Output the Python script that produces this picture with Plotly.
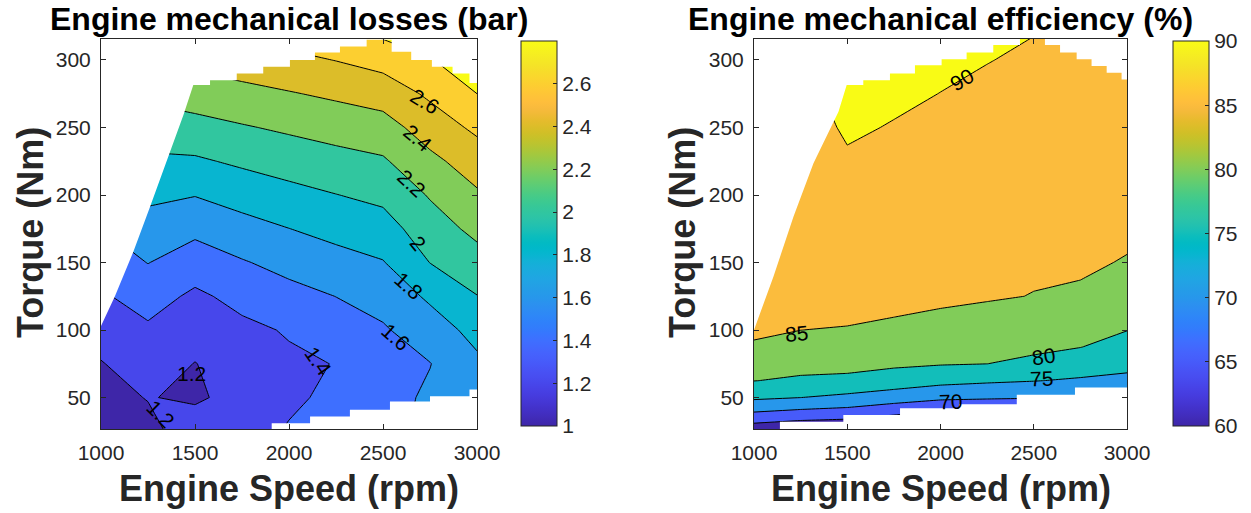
import plotly.graph_objects as go

# ---------------- data ----------------
speed = [1000, 1250, 1500, 1750, 2000, 2250, 2500, 2750, 3000]

# Mechanical losses (bar): one list per engine speed, rows = loss_torque
loss_torque = [25, 50, 75, 100, 125, 150, 175, 200, 225, 250, 275, 300, 325]
loss_1000 = [1.06, 1.12, 1.19, 1.283, 1.377, 1.484, 1.596, 1.709, 1.824, 1.943, 2.068, 2.20, 2.343]
loss_1250 = [1.13, 1.21, 1.297, 1.371, 1.477, 1.605, 1.721, 1.84, 1.965, 2.10, 2.244, 2.40, 2.556]
loss_1500 = [1.33, 1.165, 1.195, 1.279, 1.366, 1.494, 1.65, 1.807, 1.973, 2.133, 2.295, 2.456, 2.615]
loss_1750 = [1.30, 1.28, 1.29, 1.359, 1.454, 1.585, 1.729, 1.879, 2.032, 2.184, 2.342, 2.503, 2.667]
loss_2000 = [1.42, 1.36, 1.37, 1.415, 1.538, 1.661, 1.798, 1.941, 2.085, 2.231, 2.387, 2.552, 2.719]
loss_2250 = [1.50, 1.45, 1.405, 1.51, 1.602, 1.730, 1.862, 1.996, 2.133, 2.278, 2.434, 2.605, 2.772]
loss_2500 = [1.53, 1.53, 1.55, 1.58, 1.668, 1.790, 1.918, 2.047, 2.176, 2.322, 2.485, 2.673, 2.88]
loss_2750 = [1.66, 1.63, 1.595, 1.70, 1.834, 2.003, 2.108, 2.216, 2.353, 2.491, 2.634, 2.79, 2.95]
loss_3000 = [1.70, 1.72, 1.76, 1.865, 1.995, 2.123, 2.25, 2.375, 2.493, 2.64, 2.80, 2.90, 3.0]

# Mechanical efficiency (%): one list per engine speed, rows = eff_torque
eff_torque = [25, 37.5, 50, 62.5, 75, 87.5, 100, 125, 150, 175, 225, 250, 275, 300, 325]
eff_1000 = [61.25, 69.06, 75.83, 80.08, 82.12, 84.17, 86.2, 86.4, 86.6, 86.8, 87.2, 87.56, 87.97, 88.37, 88.78]
eff_1250 = [59.8, 67.92, 75.02, 79.31, 81.52, 83.33, 85.02, 85.56, 86.1, 86.65, 87.73, 88.27, 88.81, 89.35, 89.89]
eff_1500 = [59.0, 67.33, 73.86, 79.0, 81.32, 82.96, 84.61, 87.86, 88.1, 88.6, 89.55, 90.49, 91.42, 92.35, 93.28]
eff_1750 = [57.0, 65.33, 72.5, 77.69, 80.79, 82.32, 83.84, 86.89, 87.2, 87.5, 88.94, 89.8, 90.65, 91.5, 92.35]
eff_2000 = [55.1, 63.36, 71.09, 76.41, 80.30, 81.73, 83.17, 86.03, 86.4, 86.84, 88.40, 89.18, 89.96, 90.74, 91.52]
eff_2250 = [54.0, 62.6, 70.7, 75.69, 80.02, 81.36, 82.72, 85.43, 85.8, 86.53, 87.95, 88.66, 89.38, 90.09, 90.8]
eff_2500 = [53.0, 61.8, 70.38, 75.15, 78.94, 80.95, 82.26, 84.89, 85.63, 86.28, 87.58, 88.24, 88.89, 89.54, 90.2]
eff_2750 = [52.0, 61.07, 70.05, 74.46, 77.44, 80.1, 81.34, 83.81, 86.29, 86.6, 87.12, 87.72, 88.32, 88.92, 89.52]
eff_3000 = [51.4, 60.36, 69.29, 73.83, 76.36, 78.26, 80.09, 82.28, 84.47, 86.68, 86.9, 87.2, 87.78, 88.36, 88.95]

# Operating envelope (max / min torque curves) for each map
loss_max_speed = [1000, 1074, 1172, 1260, 1349, 1438, 1491, 1580, 1580, 1722, 1722, 1863, 1863, 2005, 2005,
                  2138, 2138, 2271, 2271, 2413, 2413, 2546, 2546, 2650, 2650, 2760, 2760, 2870, 2870, 2960, 2960, 3000]
loss_max_torque = [103, 125, 158, 191, 225, 259, 281.5, 281.5, 285, 285, 290, 290, 295, 295, 300,
                   300, 305.5, 305.5, 310, 310, 315, 315, 306, 306, 300, 300, 295, 295, 290, 290, 283, 283]
loss_min_speed = [1000, 1908, 1908, 2112, 2112, 2324, 2324, 2537, 2537, 2750, 2750, 2960, 2960, 3000]
loss_min_torque = [20, 20, 31, 31, 36, 36, 41, 41, 47, 47, 51, 51, 56, 56]

eff_max_speed = [1000, 1104, 1212, 1319, 1453, 1497, 1586, 1586, 1729, 1729, 1863, 1863, 2006, 2006, 2140, 2140,
                 2283, 2283, 2426, 2426, 2560, 2560, 2641, 2641, 2730, 2730, 2810, 2810, 2891, 2891, 2971, 2971, 3000]
eff_max_torque = [100, 139.5, 184, 223.5, 261.7, 281.5, 281.5, 285, 285, 290, 290, 296, 296, 300.5, 300.5, 305.5,
                  305.5, 311, 311, 316, 316, 311, 311, 305.5, 305.5, 300.5, 300.5, 295.5, 295.5, 290.5, 290.5, 285.5, 285.5]
eff_min_speed = [1000, 1139, 1139, 1479, 1479, 1783, 1783, 2100, 2100, 2409, 2409, 2721, 2721, 3000]
eff_min_torque = [20, 20, 32, 32, 37, 37, 42, 42, 45, 45, 52, 52, 57.5, 57.5]

# Contour labels (text, speed, torque, rotation)
loss_label_text = ["2.6", "2.4", "2.2", "2", "1.8", "1.6", "1.4", "1.2", "1.2"]
loss_label_speed = [2723, 2688, 2653, 2688, 2635, 2564, 2156, 1482, 1314]
loss_label_torque = [269, 242, 208.7, 164, 133, 95, 76.5, 68, 38]
loss_label_angle = [31, 40, 43, 50, 42, 41, 55, 0, 45]
eff_label_text = ["90", "85", "80", "75", "70"]
eff_label_speed = [2114, 1229, 2551, 2543, 2051]
eff_label_torque = [285.7, 97.5, 80.2, 64, 47]
eff_label_angle = [-31, -5, -8, -2, -2]

speed_ticks = [1000, 1500, 2000, 2500, 3000]
torque_ticks = [50, 100, 150, 200, 250, 300]
loss_cbar_ticks = [1, 1.2, 1.4, 1.6, 1.8, 2, 2.2, 2.4, 2.6]
eff_cbar_ticks = [60, 65, 70, 75, 80, 85, 90]

# ---------------- parula colormap ----------------
parula_rgb = [
    (0.2422, 0.1504, 0.6603), (0.2504, 0.1650, 0.7076), (0.2578, 0.1818, 0.7511), (0.2647, 0.1978, 0.7952),
    (0.2706, 0.2147, 0.8364), (0.2751, 0.2342, 0.8710), (0.2783, 0.2559, 0.8991), (0.2803, 0.2782, 0.9221),
    (0.2813, 0.3006, 0.9414), (0.2810, 0.3228, 0.9579), (0.2795, 0.3447, 0.9717), (0.2760, 0.3667, 0.9829),
    (0.2699, 0.3892, 0.9906), (0.2602, 0.4123, 0.9952), (0.2440, 0.4358, 0.9988), (0.2206, 0.4603, 0.9973),
    (0.1963, 0.4847, 0.9892), (0.1834, 0.5074, 0.9798), (0.1786, 0.5289, 0.9682), (0.1764, 0.5499, 0.9520),
    (0.1687, 0.5703, 0.9359), (0.1540, 0.5902, 0.9218), (0.1460, 0.6091, 0.9079), (0.1380, 0.6276, 0.8973),
    (0.1248, 0.6459, 0.8883), (0.1113, 0.6635, 0.8763), (0.0952, 0.6798, 0.8598), (0.0689, 0.6948, 0.8394),
    (0.0297, 0.7082, 0.8163), (0.0036, 0.7203, 0.7917), (0.0067, 0.7312, 0.7660), (0.0433, 0.7411, 0.7394),
    (0.0964, 0.7500, 0.7120), (0.1408, 0.7584, 0.6842), (0.1717, 0.7670, 0.6554), (0.1938, 0.7758, 0.6251),
    (0.2161, 0.7843, 0.5923), (0.2470, 0.7918, 0.5567), (0.2906, 0.7973, 0.5188), (0.3406, 0.8008, 0.4789),
    (0.3909, 0.8029, 0.4354), (0.4456, 0.8024, 0.3909), (0.5044, 0.7993, 0.3480), (0.5616, 0.7942, 0.3045),
    (0.6174, 0.7876, 0.2612), (0.6720, 0.7793, 0.2227), (0.7242, 0.7698, 0.1910), (0.7738, 0.7598, 0.1646),
    (0.8203, 0.7498, 0.1535), (0.8634, 0.7406, 0.1596), (0.9035, 0.7330, 0.1774), (0.9393, 0.7288, 0.2100),
    (0.9728, 0.7298, 0.2394), (0.9956, 0.7434, 0.2371), (0.9970, 0.7659, 0.2199), (0.9952, 0.7893, 0.2028),
    (0.9892, 0.8136, 0.1885), (0.9786, 0.8386, 0.1766), (0.9676, 0.8639, 0.1643), (0.9610, 0.8890, 0.1537),
    (0.9597, 0.9135, 0.1423), (0.9628, 0.9373, 0.1265), (0.9691, 0.9606, 0.1064), (0.9769, 0.9839, 0.0805),
]
n = len(parula_rgb)
parula = [[i / (n - 1), "rgb(%d,%d,%d)" % tuple(round(c * 255) for c in rgb)] for i, rgb in enumerate(parula_rgb)]

# ---------------- figure ----------------
W, H = 1251, 513
FONT = "Liberation Sans, Arial, Helvetica, sans-serif"
TXT = "#262626"

def px_x(p):
    return p / W

def px_y(p):
    return 1 - p / H

def grid(cols):
    return [list(r) for r in zip(*cols)]

z_loss = grid([loss_1000, loss_1250, loss_1500, loss_1750, loss_2000, loss_2250, loss_2500, loss_2750, loss_3000])
z_eff = grid([eff_1000, eff_1250, eff_1500, eff_1750, eff_2000, eff_2250, eff_2500, eff_2750, eff_3000])

fig = go.Figure()

def add_map(z, ys, start, end, size, xa, ya):
    fig.add_trace(go.Contour(
        x=speed, y=ys, z=z, colorscale=parula, showscale=False,
        autocontour=False,
        contours=dict(start=start, end=end, size=size, coloring="fill", showlabels=False),
        line=dict(color="black", width=1, smoothing=0),
        hoverinfo="skip", xaxis=xa, yaxis=ya))

def add_mask(sx, sy, top, xa, ya):
    edge = 340 if top else 0
    xs = [950] + sx + [3050, 3050, 950]
    ys = [sy[0]] + sy + [sy[-1], edge, edge]
    fig.add_trace(go.Scatter(x=xs, y=ys, mode="lines", fill="toself", fillcolor="white",
                             line=dict(width=0, color="white"), hoverinfo="skip",
                             showlegend=False, xaxis=xa, yaxis=ya))

def add_cbar(cmin, cmax, ticks, xpix, xa, ya):
    fig.add_trace(go.Scatter(
        x=[None], y=[None], mode="markers", showlegend=False, hoverinfo="skip",
        marker=dict(color=[cmin], colorscale=parula, cmin=cmin, cmax=cmax, showscale=True,
                    colorbar=dict(x=px_x(xpix), xanchor="left", xpad=0, ypad=0,
                                  y=px_y(41), yanchor="top", len=385, lenmode="pixels",
                                  thickness=36, thicknessmode="pixels",
                                  outlinewidth=1, outlinecolor=TXT,
                                  tickvals=ticks, ticks="inside", ticklen=4, tickcolor=TXT,
                                  tickfont=dict(size=21, color=TXT, family=FONT))),
        xaxis=xa, yaxis=ya))

def add_labels(texts, xs, ys, angles, xa, ya):
    for t, x, y, a in zip(texts, xs, ys, angles):
        fig.add_annotation(text=t, x=x, y=y, xref=xa, yref=ya, showarrow=False,
                           textangle=a, xanchor="center", yanchor="middle",
                           font=dict(size=21, color="black", family=FONT))

add_map(z_loss, loss_torque, 1.2, 2.8, 0.2, "x", "y")
add_mask(loss_max_speed, loss_max_torque, True, "x", "y")
add_mask(loss_min_speed, loss_min_torque, False, "x", "y")
add_cbar(1.0, 2.8, loss_cbar_ticks, 521, "x", "y")
add_labels(loss_label_text, loss_label_speed, loss_label_torque, loss_label_angle, "x", "y")

add_map(z_eff, eff_torque, 65, 90, 5, "x2", "y2")
add_mask(eff_max_speed, eff_max_torque, True, "x2", "y2")
add_mask(eff_min_speed, eff_min_torque, False, "x2", "y2")
add_cbar(60, 90, eff_cbar_ticks, 1173, "x2", "y2")
add_labels(eff_label_text, eff_label_speed, eff_label_torque, eff_label_angle, "x2", "y2")

ax_common = dict(showline=True, linecolor=TXT, linewidth=1, mirror="ticks", ticks="inside",
                 ticklen=5, tickcolor=TXT, showgrid=False, zeroline=False,
                 tickfont=dict(size=21, color=TXT, family=FONT))
ydom = [px_y(429), px_y(38.5)]
fig.update_layout(
    width=W, height=H, margin=dict(l=0, r=0, t=0, b=0, autoexpand=False),
    paper_bgcolor="white", plot_bgcolor="white", showlegend=False,
    font=dict(family=FONT, color=TXT),
    xaxis=dict(domain=[px_x(101), px_x(477)], range=[1000, 3000], tickvals=speed_ticks, anchor="y",
               ticklabelstandoff=5, **ax_common),
    yaxis=dict(domain=ydom, range=[26.7, 315.9], tickvals=torque_ticks, anchor="x",
               ticklabelstandoff=5, **ax_common),
    xaxis2=dict(domain=[px_x(754), px_x(1127)], range=[1000, 3000], tickvals=speed_ticks, anchor="y2",
                ticklabelstandoff=5, **ax_common),
    yaxis2=dict(domain=ydom, range=[26.7, 315.9], tickvals=torque_ticks, anchor="x2",
                ticklabelstandoff=5, **ax_common),
)

def text(t, x, y, size, color, angle=0):
    fig.add_annotation(text="<b>%s</b>" % t, x=px_x(x), y=px_y(y), xref="paper", yref="paper",
                       xanchor="center", yanchor="middle", showarrow=False, textangle=angle,
                       font=dict(size=size, color=color, family=FONT))

text("Engine mechanical losses (bar)", 289, 19, 32, "black")
text("Engine mechanical efficiency (%)", 940.5, 19, 32, "black")
text("Engine Speed (rpm)", 289, 488, 36, TXT)
text("Engine Speed (rpm)", 940.5, 488, 36, TXT)
text("Torque (Nm)", 30, 233, 36, TXT, -90)
text("Torque (Nm)", 682, 233, 36, TXT, -90)

fig.write_html("out.html", config={"displayModeBar": False},
               post_script="document.body.style.margin='0px';")
